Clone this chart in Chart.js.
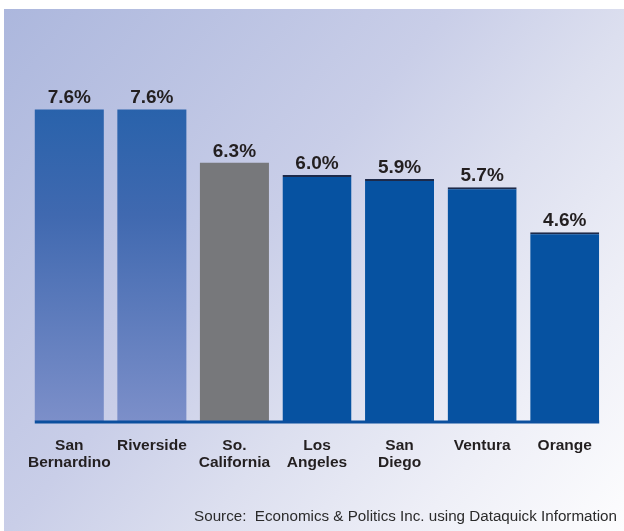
<!DOCTYPE html>
<html>
<head>
<meta charset="utf-8">
<script src="https://cdn.jsdelivr.net/npm/chart.js@4.4.1/dist/chart.umd.min.js"></script>
<style>
  html, body { margin: 0; padding: 0; background: #ffffff; }
  #wrap { width: 624px; height: 531px; position: relative; }
</style>
</head>
<body>
<div id="wrap"><canvas id="myChart"></canvas></div>
<script>
const categories = [
  ["San", "Bernardino"],
  ["Riverside"],
  ["So.", "California"],
  ["Los", "Angeles"],
  ["San", "Diego"],
  ["Ventura"],
  ["Orange"]
];
const values = [7.6, 7.6, 6.3, 6.0, 5.9, 5.7, 4.6];
const valueLabels = ["7.6%", "7.6%", "6.3%", "6.0%", "5.9%", "5.7%", "4.6%"];
// which bars get the light gradient / grey / solid blue look
const barKinds = ["gradient", "gradient", "grey", "solid", "solid", "solid", "solid"];
const sourceText = "Source:  Economics & Politics Inc. using Dataquick Information";

const textColor = "#231f20";

function barFill(context) {
  const kind = barKinds[context.dataIndex];
  if (kind === "grey") return "#77787b";
  if (kind === "solid") return "#0652a1";
  const area = context.chart.chartArea;
  if (!area) return "#2a62aa";
  const g = context.chart.ctx.createLinearGradient(0, 105, 0, area.bottom);
  g.addColorStop(0, "#2862ab");
  g.addColorStop(0.35, "#4069b0");
  g.addColorStop(1, "#7c8fc9");
  return g;
}

const backgroundPlugin = {
  id: "panelBackground",
  beforeDraw(chart) {
    const ctx = chart.ctx;
    ctx.save();
    ctx.fillStyle = "#ffffff";
    ctx.fillRect(0, 0, chart.width, chart.height);
    const g = ctx.createLinearGradient(4, 9, chart.width, chart.height);
    g.addColorStop(0, "#acb7dd");
    g.addColorStop(0.42, "#c9cee8");
    g.addColorStop(0.6, "#dcdfef");
    g.addColorStop(0.8, "#eeeff7");
    g.addColorStop(1, "#fdfdfe");
    ctx.fillStyle = g;
    ctx.fillRect(4, 9, chart.width - 4, chart.height - 9);
    ctx.restore();
  }
};

const labelsPlugin = {
  id: "barLabels",
  afterDatasetsDraw(chart) {
    const ctx = chart.ctx;
    const meta = chart.getDatasetMeta(0);
    const y0 = chart.scales.y.getPixelForValue(0);
    ctx.save();
    // baseline under the bars
    const first = meta.data[0];
    const last = meta.data[meta.data.length - 1];
    ctx.strokeStyle = "#0b4f9e";
    ctx.lineWidth = 3;
    ctx.beginPath();
    ctx.moveTo(first.x - first.width / 2, y0 + 1);
    ctx.lineTo(last.x + last.width / 2, y0 + 1);
    ctx.stroke();
    // value labels
    ctx.fillStyle = textColor;
    ctx.font = "bold 19px 'Liberation Sans', Arial, sans-serif";
    ctx.textAlign = "center";
    ctx.textBaseline = "alphabetic";
    meta.data.forEach((bar, i) => {
      ctx.fillText(valueLabels[i], bar.x, bar.y - 6);
    });
    // source line
    ctx.font = "15.2px 'Liberation Sans', Arial, sans-serif";
    ctx.fillStyle = "#2b2b2b";
    ctx.textAlign = "right";
    ctx.fillText(sourceText, 617, 521);
    ctx.restore();
  }
};

const myChart = document.getElementById("myChart");
new Chart(myChart, {
  type: "bar",
  data: {
    labels: categories,
    datasets: [{
      data: values,
      backgroundColor: barFill,
      borderColor: "#1d2a4a",
      borderWidth: (c) => barKinds[c.dataIndex] === "solid" ? { top: 2, left: 0, right: 0, bottom: 0 } : 0,
      borderSkipped: "start",
      barPercentage: 0.836,
      categoryPercentage: 1
    }]
  },
  options: {
    responsive: true,
    maintainAspectRatio: false,
    animation: false,
    layout: { padding: { top: 52, left: 28, right: 18, bottom: 44 } },
    plugins: {
      legend: { display: false },
      tooltip: { enabled: false }
    },
    scales: {
      x: {
        grid: { display: false, drawTicks: false },
        border: { display: false },
        ticks: {
          color: textColor,
          padding: 16,
          maxRotation: 0,
          autoSkip: false,
          font: { family: "'Liberation Sans', Arial, sans-serif", size: 15.5, weight: "bold", lineHeight: 1.1 }
        }
      },
      y: {
        display: false,
        min: 0,
        max: 9
      }
    }
  },
  plugins: [backgroundPlugin, labelsPlugin]
});
</script>
</body>
</html>
